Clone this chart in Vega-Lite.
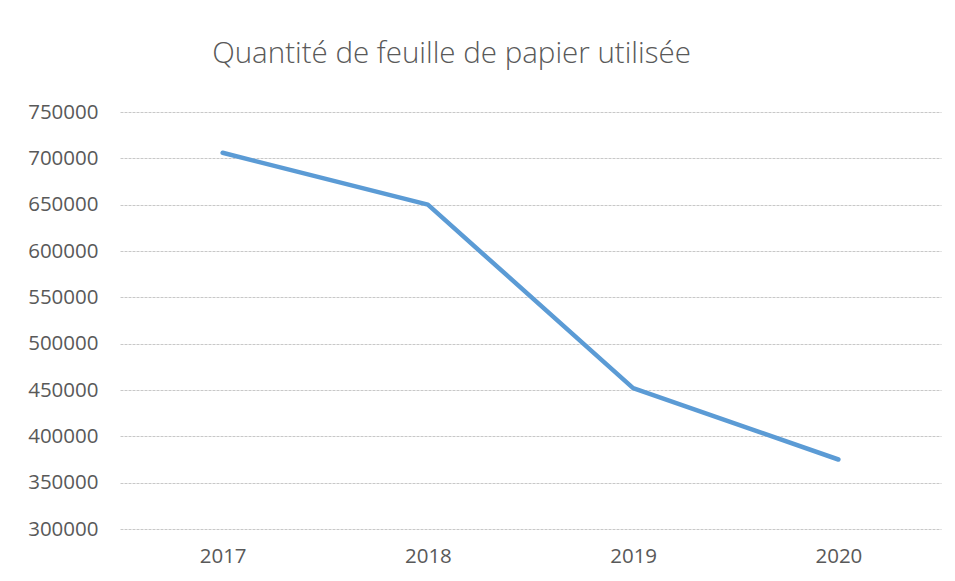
{
  "$schema": "https://vega.github.io/schema/vega-lite/v6.json",
  "width": 821,
  "height": 417,
  "autosize": {"type": "none"},
  "padding": {"left": 120, "top": 112, "right": 14, "bottom": 52},
  "background": "white",
  "title": {
    "text": "Quantité de feuille de papier utilisée",
    "font": "Open Sans",
    "fontWeight": 300,
    "fontSize": 29.5,
    "color": "#595959",
    "anchor": "middle",
    "dx": -79,
    "baseline": "alphabetic",
    "offset": 10
  },
  "data": {
    "values": [
      {"annee": "2017", "quantite": 706000},
      {"annee": "2018", "quantite": 650000},
      {"annee": "2019", "quantite": 452000},
      {"annee": "2020", "quantite": 375000}
    ]
  },
  "mark": {"type": "line", "color": "#5b9bd5", "strokeWidth": 4.5, "strokeCap": "round", "strokeJoin": "round"},
  "encoding": {
    "x": {
      "field": "annee",
      "type": "ordinal",
      "scale": {"type": "point", "padding": 0.5},
      "axis": {
        "title": null,
        "labelAngle": 0,
        "domain": false,
        "ticks": false,
        "grid": false,
        "labelFont": "Open Sans",
        "labelFontSize": 20.5,
        "labelColor": "#595959",
        "labelPadding": 17
      }
    },
    "y": {
      "field": "quantite",
      "type": "quantitative",
      "scale": {"domain": [300000, 750000], "nice": false, "zero": false},
      "axis": {
        "title": null,
        "values": [300000, 350000, 400000, 450000, 500000, 550000, 600000, 650000, 700000, 750000],
        "format": "d",
        "domain": false,
        "ticks": false,
        "grid": true,
        "gridColor": "#c8c8c8",
        "gridDash": [3, 1],
        "gridWidth": 1,
        "labelFont": "Open Sans",
        "labelFontSize": 20.5,
        "labelColor": "#595959",
        "labelPadding": 22
      }
    }
  },
  "config": {"view": {"stroke": null}}
}
